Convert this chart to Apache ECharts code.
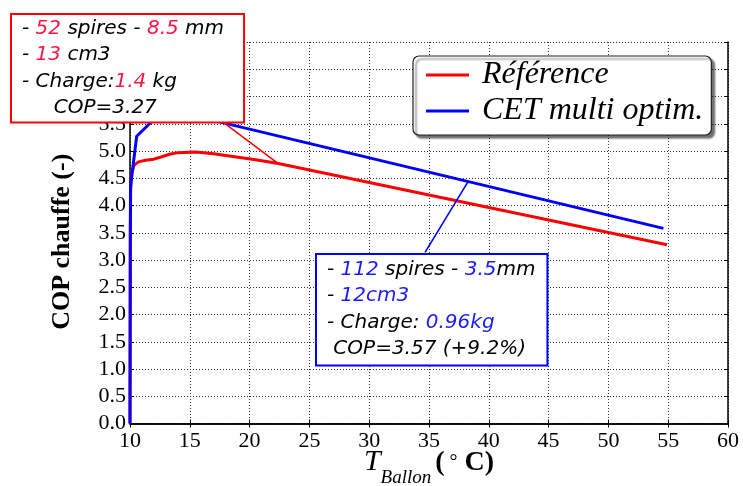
<!DOCTYPE html>
<html>
<head>
<meta charset="utf-8">
<script src="https://cdn.jsdelivr.net/npm/echarts@6/dist/echarts.min.js"></script>
<style>html,body{margin:0;padding:0;background:#fff}#c{width:743px;height:486px}</style>
</head>
<body>
<div id="c"></div>
<script>
// ---- data ----
const seriesNames = ['Référence', 'CET multi optim.'];
const tRef = [10.0, 10.02, 10.06, 10.15, 10.35, 10.7, 11.3, 12.0, 12.6, 13.3, 14.0, 15.5, 17.0, 18.9, 20.5, 22.4, 54.9];
const copRef = [0.0, 3.5, 4.3, 4.6, 4.74, 4.8, 4.83, 4.85, 4.89, 4.94, 4.97, 4.98, 4.95, 4.89, 4.84, 4.77, 3.28];
const tCet = [10.0, 10.04, 10.56, 12.1, 13.2, 14.8, 16.6, 54.6];
const copCet = [0.0, 4.35, 5.27, 5.6, 5.68, 5.68, 5.58, 3.58];
const xTicks = [10, 15, 20, 25, 30, 35, 40, 45, 50, 55, 60];
const yTicks = [0.0, 0.5, 1.0, 1.5, 2.0, 2.5, 3.0, 3.5, 4.0, 4.5, 5.0, 5.5, 6.0, 6.5, 7.0];
// annotation connectors (data coordinates)
const refConnector = [[17.36, 5.6], [22.4, 4.77]];
const cetConnector = [[38.24, 4.43], [34.67, 3.14]];

const RED = '#ff0000', BLUE = '#0000ff';
const NUM_RED = '#ff1744', NUM_BLUE = '#1a1aff';

const pairs = (xs, ys) => xs.map((x, i) => [x, ys[i]]);

const chart = echarts.init(document.getElementById('c'), null, {renderer: 'canvas'});
const serifFont = '"Liberation Serif", "DejaVu Serif", serif';
const sansFont = '"DejaVu Sans", sans-serif';

const baseAxisLine = {show: true, lineStyle: {color: '#000', width: 1.5}};
const grid = {left: 130, right: 15, top: 42, bottom: 62.5, containLabel: false, outerBoundsMode: 'none'};

function boxRich(color) {
  const f = {fontFamily: sansFont, fontStyle: 'italic', fontSize: 20, lineHeight: 26.6};
  return {n: Object.assign({fill: color}, f)};
}

const option = {
  animation: false,
  backgroundColor: '#fff',
  grid: grid,
  legend: {
    orient: 'vertical',
    left: 413, top: 56,
    data: seriesNames,
    icon: 'rect',
    itemWidth: 43, itemHeight: 3,
    itemGap: 4,
    padding: [3, 8, 8, 13],
    backgroundColor: '#fff',
    borderColor: '#222', borderWidth: 1.2, borderRadius: 6,
    shadowColor: 'rgba(0,0,0,0.55)', shadowBlur: 2, shadowOffsetX: 3, shadowOffsetY: 3,
    textStyle: {fontFamily: serifFont, fontStyle: 'italic', fontSize: 32, color: '#000', lineHeight: 32, padding: [0, 0, 0, 8]}
  },
  xAxis: [{
    type: 'value', min: 10, max: 60, interval: 5,
    axisLine: baseAxisLine,
    axisTick: {show: true, inside: true, length: 4, lineStyle: {color: '#000'}},
    axisLabel: {fontFamily: serifFont, fontSize: 22, color: '#000', margin: 7,
      formatter: v => xTicks.includes(v) ? String(v) : ''},
    splitLine: {show: true, lineStyle: {color: '#333', width: 1, type: [1, 2]}},
    name: '{t|T}{s|Ballon}{b|(}{d| °}{b| C)}',
    nameLocation: 'middle', nameGap: 14, nameMoveOverlap: false,
    nameTextStyle: {
      rich: {
        t: {fontFamily: serifFont, fontStyle: 'italic', fontSize: 30, color: '#000', lineHeight: 50, verticalAlign: 'middle'},
        s: {fontFamily: serifFont, fontStyle: 'italic', fontSize: 19, color: '#000', lineHeight: 14, verticalAlign: 'bottom', padding: [0, 4, 0, 0]},
        b: {fontFamily: serifFont, fontWeight: 'bold', fontSize: 28, color: '#000', lineHeight: 50, verticalAlign: 'middle'},
        d: {fontFamily: serifFont, fontSize: 20, color: '#000', lineHeight: 50, verticalAlign: 'middle'}
      }
    }
  }, {
    type: 'value', min: 10, max: 60, interval: 5, position: 'top',
    axisLine: baseAxisLine,
    axisTick: {show: true, inside: true, length: 4, lineStyle: {color: '#000'}},
    axisLabel: {show: false}, splitLine: {show: false}
  }],
  yAxis: [{
    type: 'value', min: 0, max: 7, interval: 0.5,
    axisLine: baseAxisLine,
    axisTick: {show: true, inside: true, length: 4, lineStyle: {color: '#000'}},
    axisLabel: {fontFamily: serifFont, fontSize: 22, color: '#000', margin: 4, padding: [0, 0, 8, 0],
      formatter: v => v.toFixed(1)},
    splitLine: {show: true, lineStyle: {color: '#333', width: 1, type: [1, 2]}},
    name: 'COP chauffe (-)',
    nameLocation: 'middle', nameRotate: 90, nameGap: 55, nameMoveOverlap: false,
    nameTextStyle: {fontFamily: serifFont, fontWeight: 'bold', fontSize: 26, color: '#000', padding: [0, 0, 0, -18]}
  }, {
    type: 'value', min: 0, max: 7, interval: 0.5, position: 'right',
    axisLine: baseAxisLine,
    axisTick: {show: true, inside: true, length: 4, lineStyle: {color: '#000'}},
    axisLabel: {show: false}, splitLine: {show: false}
  }],
  series: [{
    name: seriesNames[0], type: 'line', data: pairs(tRef, copRef),
    showSymbol: false, symbol: 'none',
    lineStyle: {color: RED, width: 3}, itemStyle: {color: RED}, z: 3,
    markLine: {silent: true, symbol: 'none', animation: false,
      lineStyle: {color: RED, width: 1.6, type: 'solid'}, label: {show: false},
      data: [[{coord: refConnector[0]}, {coord: refConnector[1]}]]}
  }, {
    name: seriesNames[1], type: 'line', data: pairs(tCet, copCet),
    showSymbol: false, symbol: 'none',
    lineStyle: {color: BLUE, width: 3}, itemStyle: {color: BLUE}, z: 4,
    markLine: {silent: true, symbol: 'none', animation: false,
      lineStyle: {color: BLUE, width: 1.6, type: 'solid'}, label: {show: false},
      data: [[{coord: cetConnector[0]}, {coord: cetConnector[1]}]]}
  }],
  graphic: [{
    type: 'text', z: 100, zlevel: 0, left: 10, top: 13,
    style: {
      text: '- {n|52} spires - {n|8.5} mm\n- {n|13} cm3\n- Charge:{n|1.4} kg\n     COP=3.27',
      rich: boxRich(NUM_RED),
      fontFamily: sansFont, fontStyle: 'italic', fontSize: 20, lineHeight: 26.6, fill: '#000',
      backgroundColor: '#fff', borderColor: RED, borderWidth: 2, padding: [0, 19, 0, 10]
    }
  }, {
    type: 'text', z: 100, left: 315, top: 253,
    style: {
      text: '- {n|112} spires - {n|3.5}mm\n- {n|12cm3}\n- Charge: {n|0.96kg}\n COP=3.57 (+9.2%)',
      rich: boxRich(NUM_BLUE),
      fontFamily: sansFont, fontStyle: 'italic', fontSize: 20, lineHeight: 26.6, fill: '#000',
      backgroundColor: '#fff', borderColor: BLUE, borderWidth: 2, padding: [1, 11, 2, 10]
    }
  }]
};
chart.setOption(option);
</script>
</body>
</html>
